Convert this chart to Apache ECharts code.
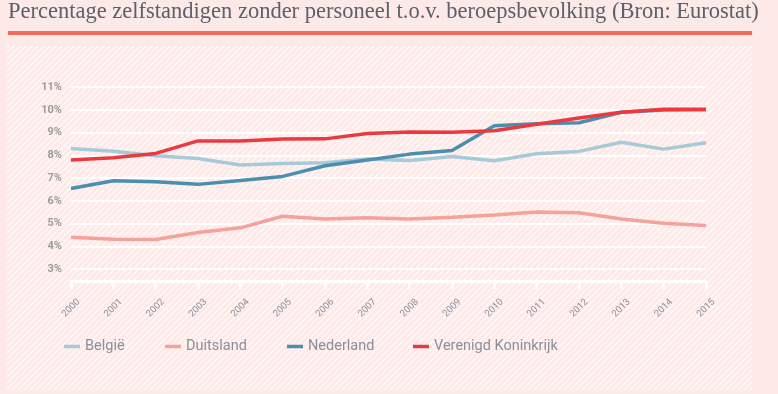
<!DOCTYPE html>
<html><head><meta charset="utf-8">
<script src="https://cdn.jsdelivr.net/npm/echarts@6/dist/echarts.min.js"></script>
<style>html,body{margin:0;padding:0;background:#fde9e7;}#c{width:778px;height:394px;}</style>
</head><body><div id="c"></div>
<script>
var years = ['2000','2001','2002','2003','2004','2005','2006','2007','2008','2009','2010','2011','2012','2013','2014','2015'];
var belgie = [8.30,8.18,7.98,7.86,7.57,7.64,7.67,7.83,7.77,7.95,7.76,8.07,8.17,8.57,8.27,8.55];
var duitsland = [4.40,4.31,4.30,4.60,4.81,5.32,5.20,5.25,5.20,5.28,5.37,5.51,5.47,5.20,5.01,4.91];
var nederland = [6.54,6.88,6.83,6.72,6.89,7.07,7.54,7.79,8.05,8.21,9.30,9.39,9.43,9.89,9.99,10.00];
var vk = [7.79,7.89,8.08,8.63,8.63,8.71,8.72,8.96,9.02,9.01,9.08,9.36,9.64,9.89,10.02,10.02];
var names = ['België','Duitsland','Nederland','Verenigd Koninkrijk'];
var colors = ['#a6cad8','#f5a29a','#4a8fae','#ea3a3f'];
var legendLeft = [64,165,287,413];

var pc = document.createElement('canvas');
pc.width = 6; pc.height = 6;
var g = pc.getContext('2d');
g.fillStyle = '#fde9e7'; g.fillRect(0,0,6,6);
g.strokeStyle = 'rgba(255,255,255,0.75)'; g.lineWidth = 1.3;
g.beginPath(); g.moveTo(-1,7); g.lineTo(7,-1); g.stroke();
g.beginPath(); g.moveTo(-1,1); g.lineTo(1,-1); g.stroke();
g.beginPath(); g.moveTo(5,7); g.lineTo(7,5); g.stroke();

var chart = echarts.init(document.getElementById('c'), null, {renderer:'canvas'});
var allData = [belgie, duitsland, nederland, vk];
var series = names.map(function(n,i){
  return {name:n, type:'line', data:allData[i], symbol:'none', smooth:false, z:3+(i===3?1:0),
    lineStyle:{color:colors[i], width:3.5}, itemStyle:{color:colors[i]}};
});
var legends = names.map(function(n,i){
  return {data:[n], left:legendLeft[i], top:339, padding:0, icon:'rect', itemWidth:16, itemHeight:3.5, itemGap:0,
    textStyle:{color:'#8a8f9b', fontSize:14.5, fontFamily:'Roboto'}, selectedMode:false};
});
chart.setOption({
  backgroundColor:'#fde9e7',
  animation:false,
  graphic:[
    {type:'rect', shape:{x:7,y:45,width:745,height:345}, style:{fill:{image:pc, repeat:'repeat'}}, z:-10, silent:true},
    {type:'text', left:8, top:1, style:{text:'Percentage zelfstandigen zonder personeel t.o.v. beroepsbevolking (Bron: Eurostat)', fill:'#5b606c', font:'22.5px "Liberation Serif"'}},
    {type:'rect', shape:{x:8,y:31,width:744,height:4}, style:{fill:'#f26a5b'}}
  ],
  legend: legends,
  grid:{left:71, right:72, top:87, bottom:125},
  xAxis:{type:'category', data:years, boundaryGap:false, offset:12,
    axisLine:{show:true, lineStyle:{color:'#ffffff', width:3}},
    axisTick:{show:true, length:8, lineStyle:{color:'#ffffff', width:3}},
    axisLabel:{rotate:45, margin:27, align:'center', verticalAlign:'middle', color:'#8a8f9b', fontSize:9.5, fontFamily:'Roboto'},
    splitLine:{show:false}},
  yAxis:{type:'value', min:3, max:11, interval:1,
    axisLine:{show:false}, axisTick:{show:false},
    axisLabel:{formatter:'{value}%', color:'#9c9c9c', fontSize:11, fontWeight:'bold', fontFamily:'Roboto', margin:9},
    splitLine:{show:true, lineStyle:{color:'#ffffff', width:2}}},
  series: series
});
</script></body></html>
